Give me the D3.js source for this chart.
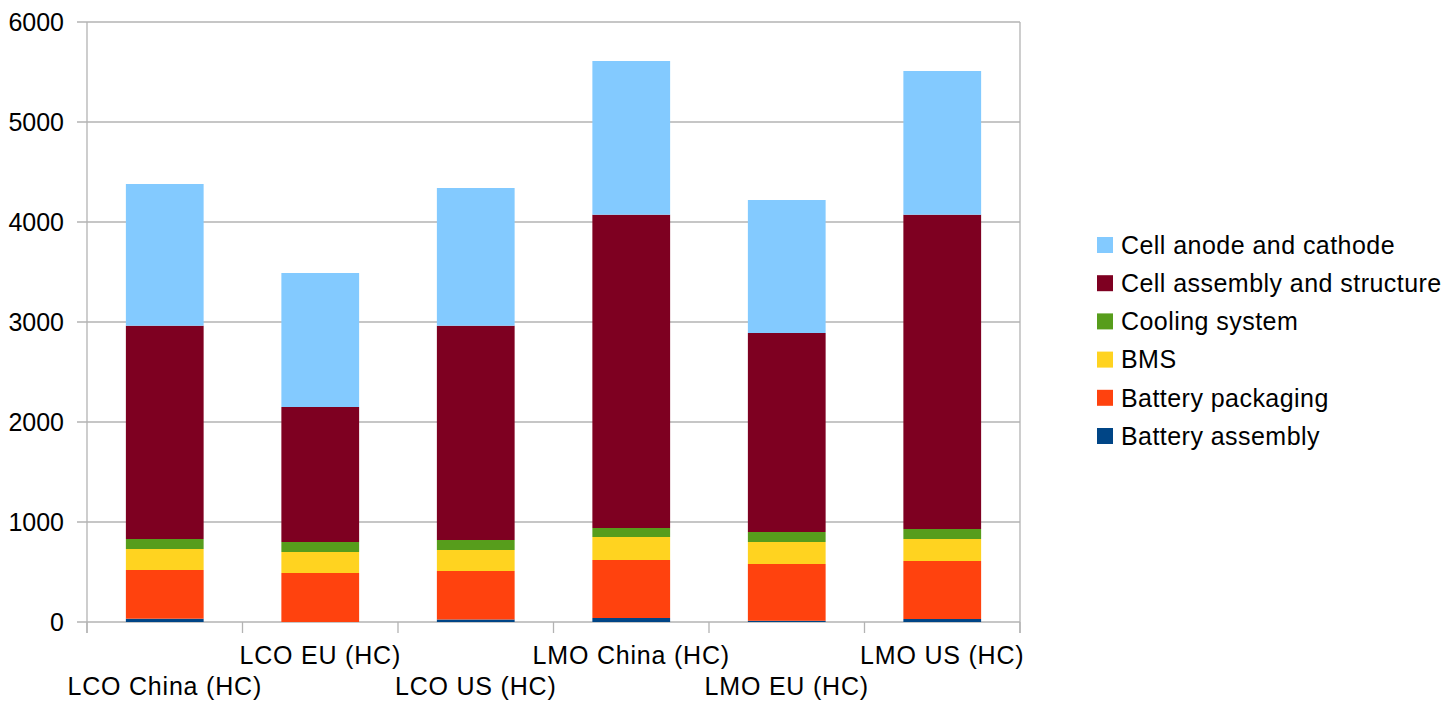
<!DOCTYPE html>
<html>
<head>
<meta charset="utf-8">
<script src="https://cdn.jsdelivr.net/npm/d3@7"></script>
<style>
  html, body { margin: 0; padding: 0; background: #fff; }
  svg { display: block; font-family: "Liberation Sans", Arial, sans-serif; }
</style>
</head>
<body>
<svg id="chart" width="1445" height="702"></svg>
<script>
// Battery pack cost breakdown per chemistry/region
const categories = ["LCO China (HC)", "LCO EU (HC)", "LCO US (HC)", "LMO China (HC)", "LMO EU (HC)", "LMO US (HC)"];

// Stack order: bottom to top
const seriesNames = ["Battery assembly", "Battery packaging", "BMS", "Cooling system", "Cell assembly and structure", "Cell anode and cathode"];
const seriesColors = ["#004586", "#ff420e", "#ffd320", "#579d1c", "#7e0021", "#83caff"];

const batteryAssembly   = [33, 0, 25, 40, 12, 30];
const batteryPackaging  = [487, 490, 485, 580, 568, 580];
const bms               = [210, 210, 210, 230, 220, 220];
const coolingSystem     = [100, 100, 100, 90, 100, 100];
const cellAssembly      = [2133, 1350, 2143, 3133, 1990, 3143];
const cellAnodeCathode  = [1417, 1340, 1377, 1537, 1330, 1437];

const yTicks = [0, 1000, 2000, 3000, 4000, 5000, 6000];

const seriesValues = [batteryAssembly, batteryPackaging, bms, coolingSystem, cellAssembly, cellAnodeCathode];

const rows = categories.map((c, i) => {
  const r = { category: c };
  seriesNames.forEach((s, j) => { r[s] = seriesValues[j][i]; });
  return r;
});

const svg = d3.select("#chart");
const plot = { left: 87, right: 1020, top: 22, bottom: 622 };

const x = d3.scaleBand().domain(categories).range([plot.left, plot.right]).paddingInner(0.5).paddingOuter(0.25);
const xBand = d3.scaleBand().domain(categories).range([plot.left, plot.right]).padding(0);
const y = d3.scaleLinear().domain([0, 6000]).range([plot.bottom, plot.top]);

const gridColor = "#b3b3b3";

// Horizontal gridlines
svg.append("g")
  .selectAll("line")
  .data(yTicks)
  .join("line")
  .attr("x1", plot.left - 10).attr("x2", plot.right)
  .attr("y1", d => y(d)).attr("y2", d => y(d))
  .attr("stroke", gridColor).attr("stroke-width", 1.3);

// Stacked bars
const stack = d3.stack().keys(seriesNames)(rows);
svg.append("g")
  .selectAll("g")
  .data(stack)
  .join("g")
  .attr("fill", (d, i) => seriesColors[i])
  .selectAll("rect")
  .data(d => d)
  .join("rect")
  .attr("x", d => x(d.data.category))
  .attr("width", x.bandwidth())
  .attr("y", d => y(d[1]))
  .attr("height", d => Math.max(0, y(d[0]) - y(d[1])));

// Axis frame: left and right vertical lines
svg.append("line")
  .attr("x1", plot.left).attr("x2", plot.left)
  .attr("y1", plot.top).attr("y2", plot.bottom + 11)
  .attr("stroke", gridColor).attr("stroke-width", 1.3);
svg.append("line")
  .attr("x1", plot.right).attr("x2", plot.right)
  .attr("y1", plot.top).attr("y2", plot.bottom + 11)
  .attr("stroke", gridColor).attr("stroke-width", 1.3);

// X axis category-boundary ticks
const boundaries = categories.map(c => xBand(c)).concat([plot.right]);
svg.append("g")
  .selectAll("line")
  .data(boundaries)
  .join("line")
  .attr("x1", d => d).attr("x2", d => d)
  .attr("y1", plot.bottom).attr("y2", plot.bottom + 11)
  .attr("stroke", gridColor).attr("stroke-width", 1.3);

// Y tick labels
svg.append("g")
  .selectAll("text")
  .data(yTicks)
  .join("text")
  .attr("x", 64)
  .attr("y", d => y(d))
  .attr("dy", "0.35em")
  .attr("text-anchor", "end")
  .attr("font-size", 25)
  .attr("fill", "#000")
  .text(d => d);

// X category labels, staggered across two rows
svg.append("g")
  .selectAll("text")
  .data(categories)
  .join("text")
  .attr("x", d => xBand(d) + xBand.bandwidth() / 2)
  .attr("y", (d, i) => i % 2 === 0 ? 686 : 655)
  .attr("dy", "0.35em")
  .attr("text-anchor", "middle")
  .attr("font-size", 25)
  .attr("letter-spacing", 0.8)
  .attr("fill", "#000")
  .text(d => d);

// Legend (top entry = top of stack)
const legendItems = seriesNames.map((n, i) => ({ name: n, color: seriesColors[i] })).reverse();
const legend = svg.append("g")
  .selectAll("g")
  .data(legendItems)
  .join("g")
  .attr("transform", (d, i) => `translate(1097, ${245 + i * 38.2})`);
legend.append("rect")
  .attr("x", 0).attr("y", -8)
  .attr("width", 16).attr("height", 16)
  .attr("fill", d => d.color);
legend.append("text")
  .attr("x", 24).attr("y", 0)
  .attr("dy", "0.35em")
  .attr("font-size", 25)
  .attr("letter-spacing", 0.45)
  .attr("fill", "#000")
  .text(d => d.name);
</script>
</body>
</html>
